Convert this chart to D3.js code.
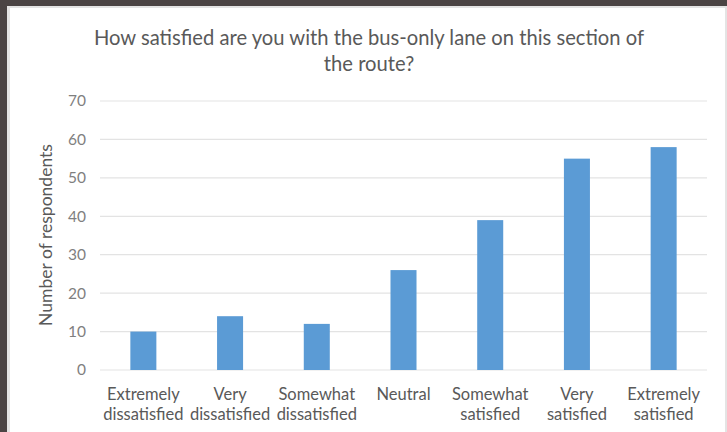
<!DOCTYPE html>
<html>
<head>
<meta charset="utf-8">
<script src="https://cdn.jsdelivr.net/npm/d3@7"></script>
<style>
html,body{margin:0;padding:0;background:#fff;}
svg{display:block;}
</style>
</head>
<body>
<svg id="chart" width="727" height="432"></svg>
<script>
const categories = [
  ["Extremely", "dissatisfied"],
  ["Very", "dissatisfied"],
  ["Somewhat", "dissatisfied"],
  ["Neutral"],
  ["Somewhat", "satisfied"],
  ["Very", "satisfied"],
  ["Extremely", "satisfied"]
];
const values = [10, 14, 12, 26, 39, 55, 58];
const yTicks = [0, 10, 20, 30, 40, 50, 60, 70];
const titleLines = ["How satisfied are you with the bus-only lane on this section of", "the route?"];
const yTitle = "Number of respondents";

const W = 727, H = 432;
const svg = d3.select("#chart");
const font = "Lato, 'Open Sans', sans-serif";

// frame
svg.append("rect").attr("x",0).attr("y",0).attr("width",W).attr("height",H).attr("fill","#4b4444");
svg.append("rect").attr("x",7).attr("y",6).attr("width",W-7).attr("height",H-6).attr("fill","#e4e4e4");
svg.append("rect").attr("x",10).attr("y",8).attr("width",715).attr("height",H-8).attr("fill","#ffffff");

const x = d3.scaleBand().domain(d3.range(categories.length)).range([100, 707]).paddingInner(0.7).paddingOuter(0.35);
const y = d3.scaleLinear().domain([0, 70]).range([370, 101]);

// gridlines
const g = svg.append("g");
g.selectAll("line.grid").data(yTicks).enter().append("line")
  .attr("x1", 100).attr("x2", 707)
  .attr("y1", d => y(d)).attr("y2", d => y(d))
  .attr("stroke", "#e3e3e3").attr("stroke-width", 1.2);

// y axis labels
const yAxis = d3.axisLeft(y).tickValues(yTicks).tickSize(0).tickPadding(14);
const ya = svg.append("g").attr("transform","translate(100,0)").call(yAxis);
ya.select(".domain").remove();
ya.selectAll("text").attr("font-family", font).attr("font-size", 15.5).attr("fill", "#7f7f7f");

// bars
svg.selectAll("rect.bar").data(values).enter().append("rect")
  .attr("class","bar")
  .attr("x", (d,i) => x(i)).attr("width", x.bandwidth())
  .attr("y", d => y(d)).attr("height", d => y(0) - y(d))
  .attr("fill", "#5b9bd5");

// x labels
const xl = svg.append("g");
categories.forEach((c, i) => {
  const t = xl.append("text").attr("x", x(i) + x.bandwidth()/2).attr("y", 400)
    .attr("text-anchor","middle").attr("font-family", font).attr("font-size", 16.5).attr("fill","#595959");
  c.forEach((line, j) => {
    t.append("tspan").attr("x", x(i) + x.bandwidth()/2).attr("dy", j === 0 ? 0 : 20).text(line);
  });
});

// title
const tt = svg.append("text").attr("x", 369).attr("y", 45).attr("text-anchor","middle")
  .attr("font-family", font).attr("font-size", 20.2).attr("fill","#595959");
titleLines.forEach((l, j) => tt.append("tspan").attr("x", 369).attr("dy", j === 0 ? 0 : 26).text(l));

// y title
svg.append("text").attr("transform", "translate(52,235) rotate(-90)").attr("text-anchor","middle")
  .attr("font-family", font).attr("font-size", 17.5).attr("fill","#595959").text(yTitle);
</script>
</body>
</html>
